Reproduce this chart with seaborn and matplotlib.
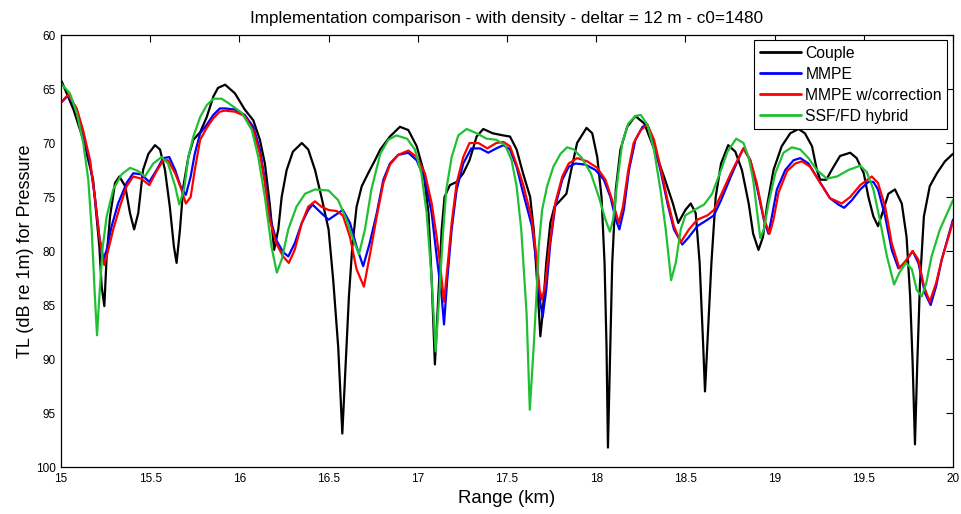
import numpy as np
import pandas as pd
import matplotlib
matplotlib.use("Agg")
import matplotlib.pyplot as plt
import seaborn as sns

# ---- data (range km, TL dB) ----
couple_x = [15.004, 15.07, 15.125, 15.18, 15.215, 15.228, 15.243, 15.256, 15.275, 15.303, 15.327, 15.36, 15.387,
            15.41, 15.433, 15.46, 15.49, 15.527, 15.555, 15.583, 15.61, 15.633, 15.648, 15.667, 15.686, 15.714,
            15.742, 15.78, 15.817, 15.854, 15.88, 15.92, 15.975, 16.03, 16.078, 16.115, 16.143, 16.17, 16.195,
            16.218, 16.237, 16.265, 16.30, 16.35, 16.386, 16.424, 16.46, 16.50, 16.526, 16.554, 16.577, 16.596,
            16.614, 16.633, 16.657, 16.686, 16.722, 16.76, 16.79, 16.844, 16.90, 16.947, 16.994, 17.031, 17.06,
            17.078, 17.096, 17.115, 17.134, 17.15, 17.18, 17.218, 17.255, 17.29, 17.33, 17.367, 17.42, 17.48,
            17.517, 17.554, 17.59, 17.63, 17.65, 17.674, 17.687, 17.70, 17.72, 17.743, 17.766, 17.80, 17.833,
            17.86, 17.893, 17.946, 17.978, 18.006, 18.03, 18.047, 18.058, 18.066, 18.077, 18.09, 18.11, 18.136,
            18.174, 18.22, 18.27, 18.326, 18.38, 18.43, 18.46, 18.50, 18.53, 18.558, 18.58, 18.60, 18.61, 18.627,
            18.646, 18.67, 18.70, 18.74, 18.78, 18.817, 18.855, 18.88, 18.91, 18.935, 18.957, 18.994, 19.04,
            19.088, 19.134, 19.17, 19.21, 19.237, 19.256, 19.29, 19.32, 19.367, 19.424, 19.46, 19.50, 19.526,
            19.554, 19.58, 19.61, 19.638, 19.675, 19.713, 19.74, 19.76, 19.774, 19.787, 19.80, 19.815, 19.837,
            19.87, 19.91, 19.955, 20.0]
couple_y = [64.3, 66.9, 69.7, 73.4, 79.6, 83.3, 85.1, 80.5, 76.8, 73.7, 73.1, 74.0, 76.5,
            78.0, 76.5, 72.5, 71.0, 70.2, 70.6, 72.5, 75.9, 79.6, 81.1, 78.0, 74.0, 71.3,
            69.7, 69.0, 67.6, 65.7, 64.9, 64.6, 65.4, 66.9, 67.9, 69.7, 71.9, 75.6, 79.9,
            78.0, 75.0, 72.5, 70.8, 70.0, 70.6, 72.5, 75.0, 78.0, 82.7, 88.9, 96.9, 90.4,
            84.2, 79.6, 75.9, 74.0, 72.8, 71.6, 70.6, 69.4, 68.5, 68.8, 70.3, 72.5, 76.5,
            82.7, 90.5, 84.2, 78.0, 75.0, 73.9, 73.6, 72.8, 71.6, 69.4, 68.7, 69.1, 69.3,
            69.4, 70.6, 72.8, 75.0, 78.0, 84.2, 87.9, 85.8, 81.1, 77.4, 75.9, 75.3, 74.7,
            72.5, 70.0, 68.6, 69.1, 71.3, 75.0, 81.1, 88.8, 98.2, 90.4, 81.1, 74.3, 70.6,
            68.5, 67.5, 68.2, 70.6, 73.1, 75.6, 77.4, 76.2, 75.6, 76.5, 81.1, 88.8, 93.0, 87.3,
            81.1, 75.0, 71.9, 70.2, 70.8, 72.5, 75.6, 78.4, 79.9, 78.7, 75.9, 72.5, 70.3,
            69.1, 68.7, 69.1, 70.3, 72.5, 73.4, 73.4, 72.5, 71.2, 70.9, 71.4, 72.8, 75.0,
            76.8, 77.7, 76.2, 74.7, 74.3, 75.6, 78.7, 84.2, 90.4, 97.9, 90.4, 83.0, 76.8,
            74.0, 72.8, 71.7, 71.0]

mmpe_x = [15.004, 15.04, 15.088, 15.125, 15.163, 15.19, 15.215, 15.237, 15.256, 15.284, 15.32, 15.368, 15.405,
          15.45, 15.495, 15.536, 15.573, 15.607, 15.64, 15.67, 15.70, 15.727, 15.75, 15.78, 15.817, 15.854,
          15.89, 15.92, 15.975, 16.03, 16.078, 16.115, 16.143, 16.17, 16.207, 16.245, 16.274, 16.31, 16.35,
          16.386, 16.41, 16.46, 16.50, 16.535, 16.58, 16.62, 16.657, 16.694, 16.73, 16.77, 16.807, 16.844,
          16.89, 16.947, 16.994, 17.04, 17.078, 17.106, 17.134, 17.147, 17.165, 17.19, 17.218, 17.255, 17.30,
          17.35, 17.395, 17.44, 17.48, 17.517, 17.554, 17.59, 17.64, 17.665, 17.687, 17.70, 17.72, 17.743,
          17.77, 17.81, 17.846, 17.884, 17.94, 17.996, 18.043, 18.08, 18.11, 18.13, 18.155, 18.184, 18.22,
          18.26, 18.287, 18.324, 18.36, 18.40, 18.436, 18.483, 18.52, 18.567, 18.624, 18.66, 18.70, 18.755,
          18.81, 18.826, 18.864, 18.90, 18.94, 18.966, 18.985, 19.013, 19.06, 19.106, 19.144, 19.19, 19.246,
          19.31, 19.358, 19.39, 19.433, 19.48, 19.526, 19.554, 19.58, 19.62, 19.657, 19.694, 19.73, 19.774,
          19.806, 19.843, 19.875, 19.905, 19.937, 20.0]
mmpe_y = [66.2, 65.6, 66.9, 69.1, 71.9, 75.0, 78.7, 80.8, 79.9, 77.7, 75.6, 73.7, 72.8,
          72.9, 73.6, 72.5, 71.4, 71.3, 72.5, 74.0, 74.8, 73.1, 71.0, 69.1, 68.3, 67.4,
          66.8, 66.8, 66.9, 67.4, 68.5, 70.6, 73.4, 76.8, 79.0, 80.1, 80.5, 79.3, 77.4,
          76.2, 75.7, 76.5, 77.1, 76.7, 76.2, 77.4, 79.6, 81.4, 79.3, 76.5, 73.4, 71.9,
          71.1, 70.9, 71.6, 73.4, 76.5, 80.5, 84.2, 86.8, 82.7, 78.0, 74.3, 71.9, 70.5,
          70.5, 70.9, 70.5, 70.2, 70.6, 72.2, 74.6, 77.7, 81.1, 84.8, 86.1, 83.6, 79.3,
          75.9, 73.4, 72.2, 71.9, 72.0, 72.5, 73.4, 75.0, 77.1, 78.0, 76.2, 72.5, 69.7,
          68.5, 68.3, 70.0, 72.5, 75.6, 78.0, 79.4, 78.7, 77.7, 77.1, 76.7, 75.3, 73.1,
          71.0, 70.5, 71.6, 74.0, 77.1, 78.4, 76.8, 74.3, 72.5, 71.6, 71.4, 71.9, 73.4,
          75.1, 75.7, 76.0, 75.3, 74.3, 73.6, 73.6, 74.3, 76.8, 79.9, 81.6, 81.1, 80.0,
          81.1, 83.9, 85.0, 83.3, 80.8, 77.1]

corr_x = [15.004, 15.04, 15.088, 15.125, 15.163, 15.19, 15.215, 15.243, 15.265, 15.293, 15.33, 15.368, 15.405,
          15.45, 15.495, 15.536, 15.573, 15.60, 15.64, 15.675, 15.70, 15.727, 15.75, 15.78, 15.817, 15.854,
          15.89, 15.92, 15.975, 16.03, 16.078, 16.115, 16.143, 16.17, 16.207, 16.245, 16.277, 16.31, 16.35,
          16.386, 16.424, 16.46, 16.50, 16.545, 16.58, 16.62, 16.657, 16.698, 16.73, 16.77, 16.807, 16.844,
          16.89, 16.947, 16.994, 17.04, 17.078, 17.106, 17.128, 17.147, 17.165, 17.19, 17.218, 17.255, 17.29,
          17.34, 17.39, 17.44, 17.48, 17.517, 17.554, 17.59, 17.64, 17.665, 17.683, 17.697, 17.715, 17.74,
          17.77, 17.81, 17.846, 17.893, 17.95, 18.006, 18.052, 18.09, 18.127, 18.15, 18.18, 18.21, 18.25,
          18.287, 18.324, 18.36, 18.40, 18.436, 18.474, 18.52, 18.567, 18.624, 18.66, 18.70, 18.755, 18.81,
          18.826, 18.864, 18.90, 18.94, 18.972, 18.994, 19.022, 19.07, 19.116, 19.153, 19.2, 19.256, 19.31,
          19.377, 19.424, 19.48, 19.545, 19.58, 19.62, 19.657, 19.70, 19.74, 19.774, 19.806, 19.838, 19.87,
          19.905, 19.937, 20.0]
corr_y = [66.2, 65.5, 66.8, 68.9, 71.6, 75.0, 78.7, 81.3, 79.9, 78.0, 75.9, 74.0, 73.1,
          73.3, 73.9, 72.6, 71.6, 71.6, 72.8, 74.3, 75.6, 75.0, 72.5, 69.7, 68.6, 67.7,
          67.1, 67.0, 67.1, 67.5, 68.8, 71.0, 73.7, 77.1, 79.3, 80.5, 81.1, 79.9, 77.4,
          75.9, 75.4, 75.9, 76.2, 76.3, 76.7, 78.7, 81.7, 83.3, 80.5, 76.8, 73.7, 72.0,
          71.1, 70.7, 71.3, 72.8, 75.6, 78.7, 81.7, 84.7, 81.7, 77.4, 73.7, 71.3, 70.0,
          70.0, 70.5, 70.0, 69.9, 70.3, 72.0, 73.8, 77.1, 80.5, 83.6, 84.5, 83.0, 79.3,
          75.6, 73.1, 71.9, 71.4, 71.7, 72.3, 73.4, 75.3, 77.4, 75.9, 72.5, 70.0, 68.8,
          68.3, 69.7, 72.2, 75.3, 77.7, 79.2, 78.0, 77.1, 76.7, 76.2, 74.8, 72.8, 71.0,
          70.5, 71.6, 73.7, 77.0, 78.4, 77.1, 74.6, 72.6, 71.9, 71.7, 72.2, 73.7, 75.1,
          75.6, 75.0, 73.9, 73.1, 73.7, 75.9, 79.3, 81.6, 80.8, 80.0, 80.8, 83.3, 84.7,
          83.0, 80.8, 77.3]

ssf_x = [15.0, 15.05, 15.088, 15.125, 15.153, 15.172, 15.19, 15.202, 15.215, 15.234, 15.256, 15.293, 15.34,
         15.387, 15.433, 15.47, 15.517, 15.564, 15.60, 15.64, 15.663, 15.69, 15.714, 15.742, 15.78, 15.817,
         15.854, 15.90, 15.938, 16.013, 16.07, 16.106, 16.143, 16.18, 16.21, 16.237, 16.274, 16.32, 16.368,
         16.424, 16.50, 16.554, 16.60, 16.64, 16.67, 16.704, 16.74, 16.79, 16.835, 16.88, 16.94, 16.984,
         17.02, 17.05, 17.078, 17.10, 17.12, 17.14, 17.16, 17.19, 17.227, 17.274, 17.33, 17.386, 17.44,
         17.49, 17.526, 17.554, 17.58, 17.61, 17.628, 17.65, 17.665, 17.678, 17.697, 17.725, 17.76, 17.80,
         17.837, 17.875, 17.92, 17.97, 18.015, 18.052, 18.077, 18.095, 18.12, 18.146, 18.18, 18.22, 18.25,
         18.287, 18.324, 18.36, 18.39, 18.42, 18.446, 18.474, 18.50, 18.55, 18.605, 18.65, 18.70, 18.736,
         18.785, 18.826, 18.854, 18.88, 18.905, 18.92, 18.94, 18.966, 19.004, 19.05, 19.097, 19.144, 19.19,
         19.237, 19.293, 19.35, 19.414, 19.48, 19.517, 19.554, 19.59, 19.63, 19.67, 19.70, 19.737, 19.77,
         19.797, 19.825, 19.85, 19.88, 19.927, 20.0]
ssf_y = [64.5, 65.4, 67.2, 70.0, 73.4, 78.0, 84.2, 87.8, 84.2, 79.6, 76.8, 74.3, 72.9,
         72.3, 72.6, 73.1, 71.9, 71.3, 71.9, 74.0, 75.7, 74.3, 71.3, 69.4, 67.6, 66.5,
         65.9, 65.9, 66.3, 67.2, 68.8, 71.3, 75.0, 79.6, 82.0, 80.8, 78.0, 75.9, 74.7,
         74.3, 74.4, 75.3, 77.1, 79.0, 80.3, 78.0, 74.3, 71.0, 69.7, 69.3, 69.6, 70.6,
         72.8, 76.5, 82.7, 89.3, 84.2, 78.7, 74.3, 71.3, 69.3, 68.7, 69.1, 69.6, 69.7,
         70.2, 71.6, 74.0, 78.0, 85.8, 94.7, 88.8, 84.2, 79.6, 76.2, 74.0, 72.2, 71.0,
         70.4, 70.6, 71.4, 72.8, 75.0, 77.1, 78.2, 77.1, 73.4, 70.0, 68.2, 67.5, 67.4,
         68.3, 70.6, 74.3, 78.0, 82.7, 81.1, 78.0, 76.7, 76.2, 75.7, 74.7, 72.5, 70.8,
         69.6, 70.0, 71.3, 73.4, 76.8, 78.8, 78.0, 75.6, 72.8, 70.9, 70.4, 70.6, 71.4,
         72.5, 73.3, 73.1, 72.5, 72.1, 72.7, 74.3, 77.1, 80.5, 83.1, 82.0, 81.1, 81.7,
         83.6, 84.2, 83.0, 80.5, 78.0, 75.3]

series_names = ["Couple", "MMPE", "MMPE w/correction", "SSF/FD hybrid"]
series_colors = ["#000000", "#0000ff", "#ff0000", "#20c034"]

frames = []
for name, xs, ys in zip(series_names, [couple_x, mmpe_x, corr_x, ssf_x],
                        [couple_y, mmpe_y, corr_y, ssf_y]):
    frames.append(pd.DataFrame({"Range": xs, "TL": ys, "Model": name}))
df = pd.concat(frames, ignore_index=True)

sns.set_theme(style="white")
plt.rcParams["font.family"] = ["Liberation Sans", "DejaVu Sans"]
plt.rcParams["text.color"] = "black"
plt.rcParams["axes.labelcolor"] = "black"

fig = plt.figure(figsize=(9.62, 5.14), dpi=100)
ax = fig.add_axes([0.0634, 0.0914, 0.9272, 0.8405])

sns.lineplot(data=df, x="Range", y="TL", hue="Model", hue_order=series_names,
             palette=dict(zip(series_names, series_colors)), sort=False,
             estimator=None, linewidth=1.6, ax=ax)

ax.set_xlim(15, 20)
ax.set_ylim(100, 60)
ax.set_xticks(np.arange(15, 20.01, 0.5))
ax.set_xticklabels(["15", "15.5", "16", "16.5", "17", "17.5", "18", "18.5", "19", "19.5", "20"])
ax.set_yticks(np.arange(60, 100.1, 5))
ax.tick_params(direction="in", length=5, width=0.8, top=True, right=True,
               labelsize=8.5, colors="black", pad=4)
for s in ax.spines.values():
    s.set_color("black")
    s.set_linewidth(0.9)

ax.set_xlabel("Range (km)", fontsize=13.4, labelpad=4, color="black")
ax.set_ylabel("TL (dB re 1m) for Pressure", fontsize=13, labelpad=1, color="black")
ax.set_title("Implementation comparison - with density - deltar = 12 m - c0=1480",
             fontsize=12.3, pad=9, color="black")

leg = ax.legend(loc="upper right", fontsize=11.3, frameon=True, fancybox=False,
                borderaxespad=0.35, handlelength=2.6, handletextpad=0.3,
                labelspacing=0.38, borderpad=0.35)
leg.get_frame().set_edgecolor("black")
leg.get_frame().set_linewidth(0.8)
leg.get_frame().set_alpha(1)
for l in leg.get_lines():
    l.set_linewidth(2)
for t in leg.get_texts():
    t.set_color("black")

fig.savefig("out.png", dpi=100)
